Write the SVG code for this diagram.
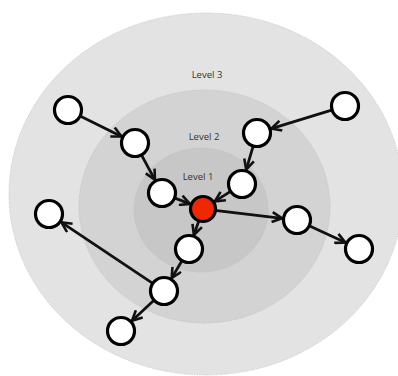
<svg xmlns="http://www.w3.org/2000/svg" width="398" height="376" viewBox="0 0 398 376">
<defs>
<style>
.ring{stroke:#b8b8b8;stroke-width:0.6;stroke-dasharray:1.5,1}
.lbl{font-family:"Open Sans","Liberation Sans",sans-serif;font-size:9.5px;fill:#333;text-anchor:middle}
.edge{stroke:#111;stroke-width:2.8;fill:none;marker-end:url(#arr)}
.node{fill:#fff;stroke:#000;stroke-width:3.2}
.center{fill:#f02800;stroke:#000;stroke-width:3.2}
</style>
<marker id="arr" viewBox="0 0 12 12" refX="11" refY="6" markerWidth="12" markerHeight="12" markerUnits="userSpaceOnUse" orient="auto">
<path d="M1,1 L11,6 L1,11" fill="none" stroke="#111" stroke-width="2.6" stroke-linejoin="miter"/>
</marker>
</defs>
<rect width="398" height="376" fill="#fff"/>
<g id="levels">
<ellipse class="ring" cx="206" cy="194" rx="197" ry="181" fill="#e3e3e3"/>
<ellipse class="ring" cx="204.5" cy="206.5" rx="125.5" ry="116.5" fill="#d3d3d3"/>
<ellipse class="ring" cx="201" cy="210" rx="67" ry="62" fill="#c7c7c7"/>
<text class="lbl" x="207" y="78">Level 3</text>
<text class="lbl" x="204" y="140">Level 2</text>
<text class="lbl" x="198" y="180">Level 1</text>
</g>
<g id="connectors">
<line class="edge" x1="80.6" y1="116.2" x2="121.5" y2="136.4"/>
<line class="edge" x1="141.7" y1="155.3" x2="154.9" y2="179.8"/>
<line class="edge" x1="331.6" y1="110.1" x2="271.3" y2="128.6"/>
<line class="edge" x1="253.1" y1="146.4" x2="246.2" y2="169.6"/>
<line class="edge" x1="230.2" y1="191.6" x2="214.8" y2="201.4"/>
<line class="edge" x1="175" y1="198.1" x2="190" y2="203.9"/>
<line class="edge" x1="216.9" y1="210.6" x2="282.1" y2="218.3"/>
<line class="edge" x1="309.7" y1="225.9" x2="345.4" y2="242.6"/>
<line class="edge" x1="198.7" y1="221.3" x2="193.9" y2="234.9"/>
<line class="edge" x1="181.8" y1="261" x2="171.7" y2="278.1"/>
<line class="edge" x1="152.4" y1="283.2" x2="61.5" y2="222.3"/>
<line class="edge" x1="153.7" y1="300.5" x2="132" y2="320.8"/>
</g>
<g id="n1"><circle class="node" cx="68" cy="110" r="13.5"/></g>
<g id="n2"><circle class="node" cx="135" cy="143" r="13.5"/></g>
<g id="n3"><circle class="node" cx="162" cy="193" r="13.5"/></g>
<g id="n4"><circle class="node" cx="242" cy="184" r="13.5"/></g>
<g id="n5"><circle class="node" cx="257" cy="133" r="13.5"/></g>
<g id="n6"><circle class="node" cx="345" cy="106" r="13.5"/></g>
<g id="center"><circle class="center" cx="203" cy="209" r="12.5"/></g>
<g id="n8"><circle class="node" cx="297" cy="220" r="13.5"/></g>
<g id="n9"><circle class="node" cx="359" cy="249" r="13.5"/></g>
<g id="n10"><circle class="node" cx="189" cy="249" r="13.5"/></g>
<g id="n11"><circle class="node" cx="164" cy="291" r="13.5"/></g>
<g id="n12"><circle class="node" cx="49" cy="214" r="13.5"/></g>
<g id="n13"><circle class="node" cx="121" cy="331" r="13.5"/></g>
</svg>
